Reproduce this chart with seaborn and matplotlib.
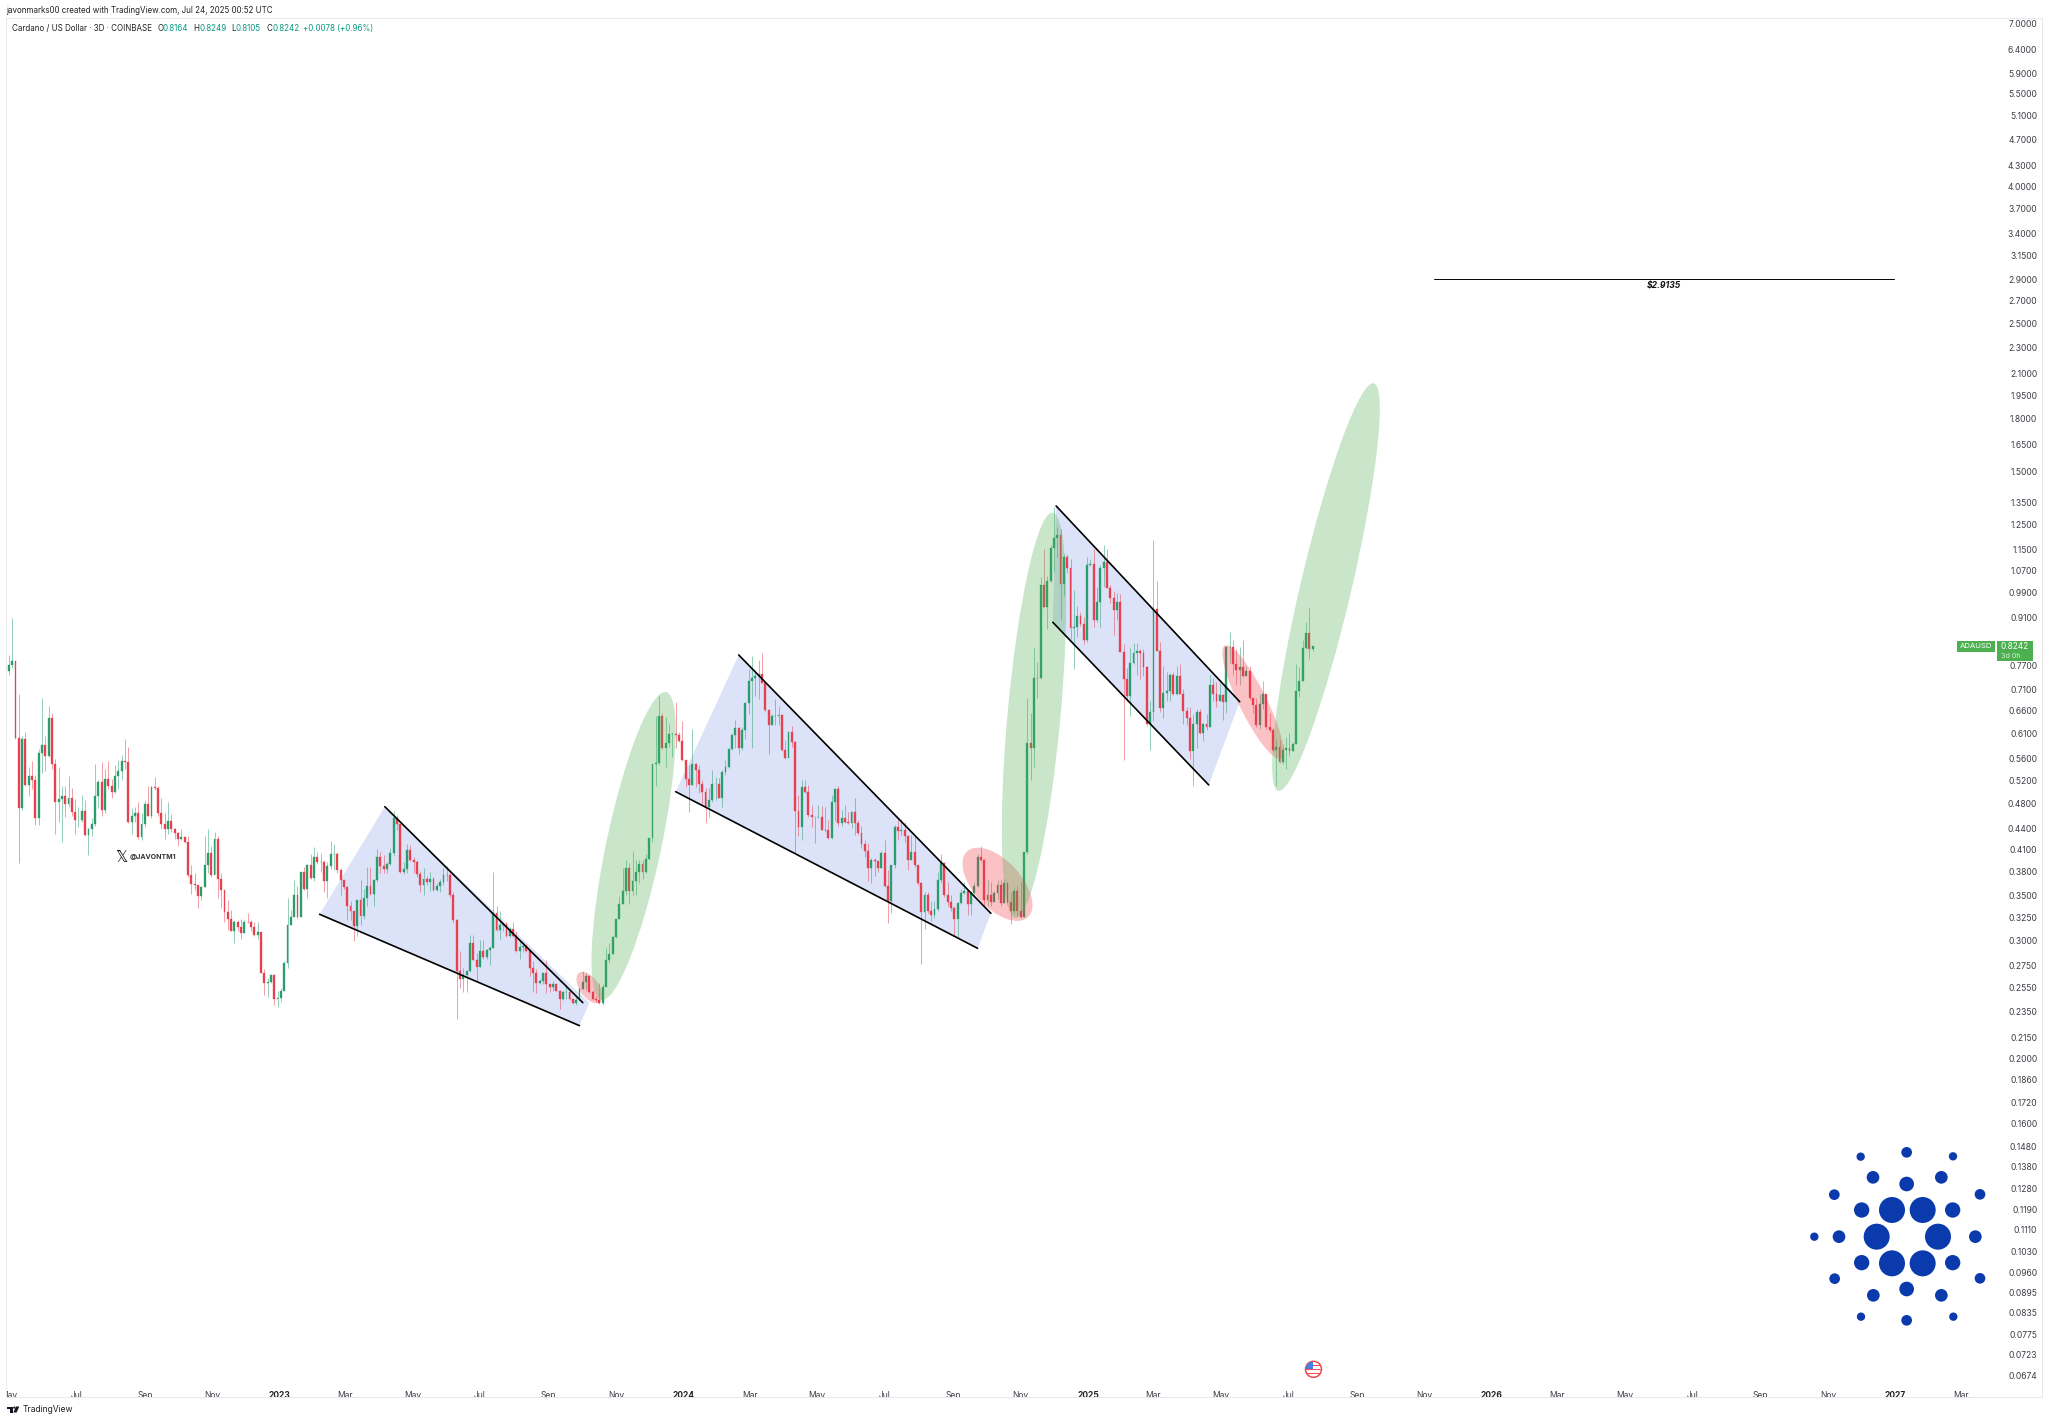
import pandas as pd
import seaborn as sns
import matplotlib.pyplot as plt
import matplotlib.dates as mdates
from matplotlib.patches import Ellipse, Circle, Rectangle, Polygon
from matplotlib.transforms import IdentityTransform

# ADA/USD 3D candles. open = previous close
first_open = 0.757
closes = [
    .773, .784, .602, .472, .600, .511, .527, .520, .456, .570, .586, .566, .643, .550, .483, .488, .493, .480, .490, .466,
    .454, .454, .468, .431, .440, .447, .493, .517, .469, .523, .510, .500, .527, .537, .556, .553, .450, .460, .464, .428,
    .447, .480, .460, .508, .506, .464, .447, .440, .452, .440, .434, .425, .428, .420, .375, .364, .363, .349, .360, .388,
    .405, .376, .425, .370, .357, .331, .323, .310, .319, .314, .308, .320, .319, .314, .306, .309, .268, .259, .260, .266,
    .245, .246, .252, .278, .316, .325, .350, .325, .380, .358, .388, .372, .399, .392, .393, .368, .387, .404, .404, .382,
    .369, .360, .338, .332, .315, .345, .326, .347, .361, .352, .369, .399, .387, .383, .390, .405, .456, .448, .379, .383,
    .409, .395, .392, .377, .363, .370, .366, .370, .357, .362, .366, .376, .376, .350, .322, .270, .263, .266, .270, .297,
    .280, .274, .289, .283, .290, .292, .330, .311, .316, .317, .305, .312, .305, .289, .293, .294, .289, .273, .268, .259,
    .261, .268, .258, .256, .258, .252, .245, .251, .251, .245, .242, .244, .254, .260, .265, .251, .245, .244, .242, .256,
    .280, .286, .303, .323, .340, .356, .384, .356, .368, .380, .390, .380, .397, .426, .549, .552, .648, .581, .591, .610,
    .610, .607, .595, .558, .523, .512, .549, .538, .514, .500, .475, .486, .514, .514, .490, .534, .545, .578, .607, .622,
    .580, .617, .678, .731, .738, .745, .749, .727, .661, .628, .648, .649, .650, .577, .562, .614, .592, .468, .443, .508,
    .500, .462, .459, .459, .459, .439, .439, .426, .483, .504, .449, .456, .451, .449, .466, .449, .434, .418, .408, .384,
    .396, .394, .384, .405, .361, .344, .388, .443, .437, .439, .429, .396, .406, .388, .365, .331, .350, .332, .327, .334,
    .369, .391, .350, .342, .335, .323, .341, .353, .356, .340, .353, .361, .400, .396, .345, .350, .342, .353, .363, .341,
    .365, .342, .332, .355, .332, .325, .406, .591, .581, .740, .738, 1.016, .942, 1.031, 1.154, 1.193, 1.207, 1.021, 1.118, 1.078,
    .877, .881, .915, .888, .842, 1.090, 1.093, .901, .960, 1.078, 1.102, 1.006, .971, .934, .960, .808, .735, .695, .778, .804,
    .810, .805, .767, .631, .657, .937, .810, .666, .701, .706, .747, .699, .744, .700, .660, .645, .574, .630, .657, .611,
    .630, .624, .722, .700, .683, .696, .681, .821, .821, .775, .759, .767, .744, .757, .689, .674, .628, .676, .699, .625,
    .617, .576, .583, .553, .577, .581, .575, .588, .706, .731, .818, .861, .815, .8242,
]
highs = [
    .800, .908, .784, .700, .606, .614, .544, .556, .530, .578, .690, .606, .670, .655, .560, .544, .510, .510, .527, .507,
    .487, .475, .495, .486, .441, .457, .550, .520, .553, .540, .555, .523, .547, .557, .568, .600, .582, .472, .475, .482,
    .464, .486, .510, .510, .525, .510, .490, .465, .483, .463, .441, .435, .440, .428, .430, .388, .378, .363, .362, .430,
    .440, .415, .436, .430, .378, .354, .345, .333, .322, .322, .323, .322, .330, .322, .320, .320, .309, .272, .264, .266,
    .267, .252, .255, .279, .347, .333, .369, .362, .380, .386, .390, .403, .414, .407, .405, .395, .393, .422, .418, .407,
    .385, .369, .362, .344, .332, .345, .369, .358, .386, .386, .371, .410, .407, .402, .393, .412, .468, .462, .444, .393,
    .418, .416, .399, .396, .381, .385, .374, .379, .373, .365, .370, .385, .387, .381, .354, .323, .289, .273, .271, .306,
    .306, .287, .300, .300, .291, .294, .380, .338, .332, .320, .319, .314, .319, .310, .298, .298, .296, .291, .279, .272,
    .263, .269, .280, .258, .261, .258, .253, .252, .257, .253, .245, .247, .256, .270, .268, .265, .253, .248, .259, .258,
    .292, .297, .304, .323, .349, .384, .395, .391, .408, .396, .396, .395, .404, .426, .549, .648, .695, .655, .647, .631,
    .613, .680, .613, .638, .558, .548, .620, .552, .547, .520, .507, .507, .538, .525, .524, .538, .557, .580, .610, .639,
    .625, .625, .680, .763, .796, .760, .786, .806, .732, .665, .652, .688, .672, .652, .598, .616, .626, .594, .494, .520,
    .520, .512, .478, .459, .478, .476, .474, .453, .494, .506, .509, .470, .477, .466, .468, .489, .453, .444, .424, .419,
    .398, .398, .392, .408, .423, .382, .388, .446, .453, .455, .451, .431, .431, .431, .388, .367, .354, .354, .344, .344,
    .379, .403, .392, .367, .350, .337, .342, .358, .366, .358, .355, .367, .404, .415, .397, .369, .367, .355, .369, .371,
    .371, .367, .354, .359, .362, .367, .406, .689, .654, .820, .781, 1.045, 1.150, 1.050, 1.165, 1.330, 1.240, 1.233, 1.130, 1.132,
    1.110, 1.000, .947, .928, .911, 1.118, 1.110, 1.152, 1.010, 1.090, 1.168, 1.150, 1.017, .995, .988, .985, .830, .764, .820, .833,
    .833, .816, .816, .770, .683, 1.188, 1.030, .837, .770, .755, .752, .755, .771, .775, .711, .668, .668, .652, .664, .664,
    .632, .653, .747, .738, .728, .726, .700, .823, .865, .842, .816, .821, .842, .771, .771, .690, .690, .699, .730, .699,
    .655, .622, .600, .597, .589, .603, .611, .592, .776, .767, .843, .896, .938, .8249,
]
lows = [
    .747, .765, .600, .391, .470, .509, .493, .505, .446, .446, .533, .536, .564, .540, .433, .450, .420, .458, .475, .460,
    .432, .443, .450, .430, .402, .430, .445, .472, .460, .465, .504, .490, .498, .505, .520, .540, .449, .433, .450, .425,
    .424, .443, .460, .456, .503, .460, .440, .425, .433, .436, .425, .415, .423, .419, .373, .352, .357, .335, .345, .360,
    .378, .373, .377, .347, .335, .320, .311, .310, .297, .310, .301, .308, .318, .310, .305, .301, .268, .249, .247, .259,
    .240, .239, .243, .253, .273, .316, .326, .324, .325, .357, .347, .371, .368, .390, .380, .354, .347, .383, .382, .378,
    .351, .358, .322, .322, .299, .304, .316, .323, .337, .351, .338, .367, .378, .378, .378, .388, .401, .439, .378, .377,
    .378, .394, .378, .373, .354, .351, .363, .356, .356, .355, .354, .363, .368, .348, .318, .229, .255, .251, .251, .269,
    .280, .261, .274, .281, .281, .276, .292, .310, .301, .310, .303, .303, .303, .288, .281, .288, .288, .265, .251, .250,
    .258, .258, .250, .251, .252, .252, .237, .244, .245, .244, .241, .240, .244, .254, .253, .250, .244, .243, .241, .240,
    .257, .278, .286, .302, .323, .340, .351, .340, .350, .350, .365, .371, .378, .397, .421, .510, .548, .578, .545, .583,
    .563, .581, .592, .556, .508, .467, .511, .508, .498, .480, .449, .458, .483, .486, .490, .475, .530, .543, .576, .581,
    .569, .576, .600, .653, .580, .695, .688, .725, .658, .569, .628, .628, .628, .575, .560, .575, .583, .404, .429, .424,
    .497, .459, .443, .419, .457, .438, .435, .425, .425, .452, .445, .445, .449, .447, .441, .431, .431, .412, .399, .368,
    .365, .374, .380, .384, .360, .318, .330, .384, .423, .429, .421, .382, .396, .386, .363, .277, .312, .330, .321, .324,
    .332, .365, .348, .337, .332, .305, .303, .340, .352, .327, .327, .350, .360, .394, .338, .338, .338, .343, .346, .338,
    .341, .340, .317, .328, .326, .324, .325, .404, .521, .544, .690, .737, .938, .875, 1.028, 1.062, 1.118, .902, .978, 1.060,
    .846, .762, .851, .882, .829, .836, 1.085, .881, .896, .881, 1.010, 1.005, .955, .857, .902, .807, .557, .682, .649, .775,
    .747, .735, .743, .627, .576, .638, .810, .657, .645, .682, .682, .696, .696, .700, .631, .628, .560, .510, .580, .609,
    .596, .618, .624, .683, .668, .683, .640, .656, .778, .747, .722, .721, .741, .744, .686, .655, .625, .620, .665, .619,
    .613, .572, .510, .551, .550, .540, .565, .575, .588, .693, .731, .815, .788, .8105,
]

# drawn trend lines: (date, price) at both ends
trend_dates = [
    ["2023-04-06", "2023-10-02"], ["2023-02-06", "2023-09-29"],
    ["2024-02-20", "2024-10-05"], ["2023-12-25", "2024-09-23"],
    ["2024-12-03", "2025-05-18"], ["2024-11-30", "2025-04-20"],
]
trend_prices = [
    [.4748, .2422], [.3281, .2238],
    [.7996, .3292], [.4999, .2919],
    [1.334, .681], [.8946, .5116],
]
# shaded wedges
wedge_dates = [
    ["2023-04-06", "2023-10-08", "2023-09-29", "2023-02-06"],
    ["2024-02-20", "2024-10-05", "2024-09-23", "2023-12-25"],
    ["2024-12-03", "2025-05-18", "2025-04-20", "2024-11-30"],
]
wedge_prices = [
    [.4748, .2419, .2238, .3281],
    [.7996, .3292, .2919, .4999],
    [1.334, .681, .5116, .8946],
]
# ellipses: centre date, centre price, semi axes in px, lean from vertical in degrees
green_dates = ["2023-11-17", "2024-11-13", "2025-08-04"]
green_prices = [.4148, .6500, 1.0096]
green_axes = [(157.3, 27.5), (203.5, 26.5), (209.3, 25.5)]
green_lean = [11.9, 5.2, 13.2]
pink_dates = ["2023-10-08", "2024-10-11", "2025-05-30"]
pink_prices = [.2551, .3637, .680]
pink_axes = [(18, 9.6), (44.8, 23.7), (63.2, 13.8)]
pink_lean = [-35, -42.6, -26.4]

target_dates = ["2025-11-10", "2026-12-31"]
target_price = 2.9135

y_ticks = [7.0, 6.4, 5.9, 5.5, 5.1, 4.7, 4.3, 4.0, 3.7, 3.4, 3.15, 2.9, 2.7, 2.5, 2.3, 2.1, 1.95, 1.8, 1.65, 1.5,
           1.35, 1.25, 1.15, 1.07, .99, .91, .77, .71, .66, .61, .56, .52, .48, .44, .41, .38, .35, .325, .30, .275,
           .255, .235, .215, .20, .186, .172, .16, .148, .138, .128, .119, .111, .103, .096, .0895, .0835, .0775, .0723, .0674]
x_labels = ["May", "Jul", "Sep", "Nov", "2023", "Mar", "May", "Jul", "Sep", "Nov", "2024", "Mar", "May", "Jul", "Sep", "Nov",
            "2025", "Mar", "May", "Jul", "Sep", "Nov", "2026", "Mar", "May", "Jul", "Sep", "Nov", "2027", "Mar"]

# Cardano logo dots, pixel positions of the picture
logo_x = [336, 428, 290, 474, 336, 428, 245, 518, 245, 518, 177, 586, 380, 380, 279, 484, 280, 484,
          163, 600, 164, 600, 380, 380, 242, 519, 243, 520, 103]
logo_y = [240, 240, 320, 320, 400, 400, 240, 240, 398, 398, 320, 320, 162, 477, 142, 142, 496, 496,
          194, 193, 446, 445, 67, 571, 80, 79, 560, 560, 320]
logo_r = [39, 39, 39, 39, 39, 39, 23, 23, 23, 23, 19, 19, 22, 22, 19, 19, 19, 19,
          16, 16, 16, 16, 16, 16, 12.5, 12.5, 12.5, 12.5, 12.5]

UP = "#2a9d6e"
DOWN = "#e8404f"
TEXT = "#3a3d45"

sns.set_theme(style="white")
plt.rcParams["font.family"] = ["Inter", "DejaVu Sans"]

fig = plt.figure(figsize=(20.48, 14.21), dpi=100)
ax = fig.add_axes([5.5 / 2048, 24 / 1421, 2036 / 2048, 1379 / 1421])
ax.set_yscale("log")
ax.set_xlim(mdates.date2num(pd.Timestamp("2022-04-28")), mdates.date2num(pd.Timestamp("2027-05-13")))
ax.set_ylim(0.0625, 7.13)

opens = [first_open] + closes[:-1]
bars = pd.DataFrame({"open": opens, "high": highs, "low": lows, "close": closes})
bars["date"] = pd.date_range("2022-05-01", periods=len(bars), freq="3D")
bars["x"] = mdates.date2num(bars["date"])
bars["up"] = bars["close"] >= bars["open"]
bars["color"] = bars["up"].map({True: UP, False: DOWN})

ax.vlines(bars["x"], bars["low"], bars["high"], colors=bars["color"], linewidth=0.5, alpha=0.7, zorder=2)
ax.bar(bars["x"], (bars["close"] - bars["open"]).abs(), bottom=bars[["open", "close"]].min(axis=1), width=1.7,
       color=bars["color"], edgecolor=bars["color"], linewidth=0.25, zorder=2.5)

for d, p in zip(wedge_dates, wedge_prices):
    ax.fill(mdates.date2num(pd.to_datetime(d)), p, color="#4263d3", alpha=0.18, linewidth=0, zorder=1)

for d, p in zip(trend_dates, trend_prices):
    sns.lineplot(x=pd.to_datetime(d), y=p, color="black", linewidth=1.2, estimator=None, sort=False,
                 legend=False, ax=ax, zorder=6)

sns.lineplot(x=pd.to_datetime(target_dates), y=[target_price, target_price], color="black", linewidth=0.7,
             estimator=None, legend=False, ax=ax, zorder=6)
ax.annotate("$2.9135", (mdates.date2num(pd.Timestamp("2026-06-06")), target_price), xytext=(0, -5),
            textcoords="offset points", ha="center", va="center", fontsize=6.2, fontweight="bold",
            fontstyle="italic", color="#111111", parse_math=False)

ax.set_xlim(mdates.date2num(pd.Timestamp("2022-04-28")), mdates.date2num(pd.Timestamp("2027-05-13")))
ax.set_ylim(0.0625, 7.13)
ax.set_xlabel("")
ax.set_ylabel("")


def add_ellipses(dates, prices, axes, lean, color, z):
    for d, p, (a, b), t in zip(dates, prices, axes, lean):
        cx, cy = ax.transData.transform((mdates.date2num(pd.Timestamp(d)), p))
        ax.add_patch(Ellipse((cx, cy), 2 * a, 2 * b, angle=90 - t, transform=IdentityTransform(),
                             facecolor=color, edgecolor="none", alpha=0.3, zorder=z))


add_ellipses(pink_dates, pink_prices, pink_axes, pink_lean, "#f23645", 4)
add_ellipses(green_dates, green_prices, green_axes, green_lean, "#4caf50", 5)

ax.set_yticks(y_ticks)
ax.set_yticklabels(["%.4f" % v for v in y_ticks])
ax.set_yticks([], minor=True)
ax.tick_params(axis="y", which="both", left=False, right=False, labelleft=False, labelright=True,
               pad=-9, labelsize=6.1, labelcolor=TEXT)
for lab in ax.get_yticklabels():
    lab.set_horizontalalignment("right")

x_ticks = pd.date_range("2022-05-01", "2027-03-01", freq="2MS")
ax.set_xticks(mdates.date2num(x_ticks))
ax.set_xticklabels(x_labels)
ax.tick_params(axis="x", bottom=False, pad=-10, labelsize=6.1, labelcolor=TEXT)
for lab, txt in zip(ax.get_xticklabels(), x_labels):
    lab.set_clip_on(True)
    lab.set_clip_path(ax.patch)
    if txt.isdigit():
        lab.set_fontweight("bold")
        lab.set_color("#222222")

ax.grid(False)
for s in ax.spines.values():
    s.set_color("#e9e9ec")
    s.set_linewidth(0.7)

# overlay in picture pixels for header, tag, watermark and logos
ov = fig.add_axes([0, 0, 1, 1], zorder=10)
ov.set_xlim(0, 2048)
ov.set_ylim(1421, 0)
ov.axis("off")

ov.text(6.5, 10.5, "javonmarks00 created with TradingView.com, Jul 24, 2025 00:52 UTC", fontsize=5.75,
        color="#222222", va="center")
ov.text(12.5, 28.5, "Cardano / US Dollar · 3D · COINBASE", fontsize=5.75, color="#222222", va="center")
TEAL = "#089981"
for x, lab, val in [(157, "O", "0.8164"), (193.5, "H", "0.8249"), (231.5, "L", "0.8105"), (266.5, "C", "0.8242")]:
    ov.text(x, 28.5, lab, fontsize=5.75, color="#222222", va="center")
    ov.text(x + (5.8 if lab != "L" else 4.5), 28.5, val, fontsize=5.75, color=TEAL, va="center")
ov.text(303, 28.5, "+0.0078 (+0.96%)", fontsize=5.75, color=TEAL, va="center")

# last price tag
ov.add_patch(Rectangle((1957, 641), 38, 11, facecolor="#4caf50", edgecolor="none"))
ov.add_patch(Rectangle((1997, 641), 36, 20, facecolor="#4caf50", edgecolor="none"))
ov.text(1976, 646.5, "ADAUSD", color="white", fontsize=5.6, ha="center", va="center")
ov.text(2029, 646.5, "0.8242", color="white", fontsize=6, ha="right", va="center")
ov.text(2001, 656, "3d 0h", color="#d8f0d8", fontsize=5.2, ha="left", va="center")

# watermark
ov.text(121.5, 857, "\U0001D54F", family="DejaVu Sans", fontsize=11, color="#111111", ha="center", va="center")
ov.text(129.5, 857.5, "@JAVONTM1", fontsize=5, fontweight="bold", color="#333333", va="center")

# Cardano logo
for zx, zy, zr in zip(logo_x, logo_y, logo_r):
    ov.add_patch(Circle((1780 + zx / 3, 1130 + zy / 3), zr / 3, facecolor="#0a3aab", edgecolor="none"))

# event flag near the time axis
flag = Circle((1313.5, 1369.3), 8, facecolor="white", edgecolor="#ee4a54", linewidth=1.1)
ov.add_patch(flag)
for yy in (1365.5, 1369.5, 1373.5):
    bar = Rectangle((1306, yy - 0.9), 15, 1.8, facecolor="#ee4a54", edgecolor="none")
    ov.add_patch(bar)
    bar.set_clip_path(flag)
canton = Rectangle((1306, 1362), 7, 6.5, facecolor="#4a7fe0", edgecolor="none")
ov.add_patch(canton)
canton.set_clip_path(flag)

# TradingView mark
ov.add_patch(Rectangle((7, 1406.5), 5.5, 2.3, facecolor="#131722", edgecolor="none"))
ov.add_patch(Rectangle((9.8, 1406.5), 2.7, 6, facecolor="#131722", edgecolor="none"))
ov.add_patch(Circle((14.3, 1407.6), 1.1, facecolor="#131722", edgecolor="none"))
ov.add_patch(Polygon([(16, 1406.5), (19.3, 1406.5), (16.6, 1412.5), (13.4, 1412.5)], facecolor="#131722", edgecolor="none"))
ov.text(23, 1410, "TradingView", fontsize=6.2, color="#222222", va="center")

fig.savefig("out.png", dpi=100)
